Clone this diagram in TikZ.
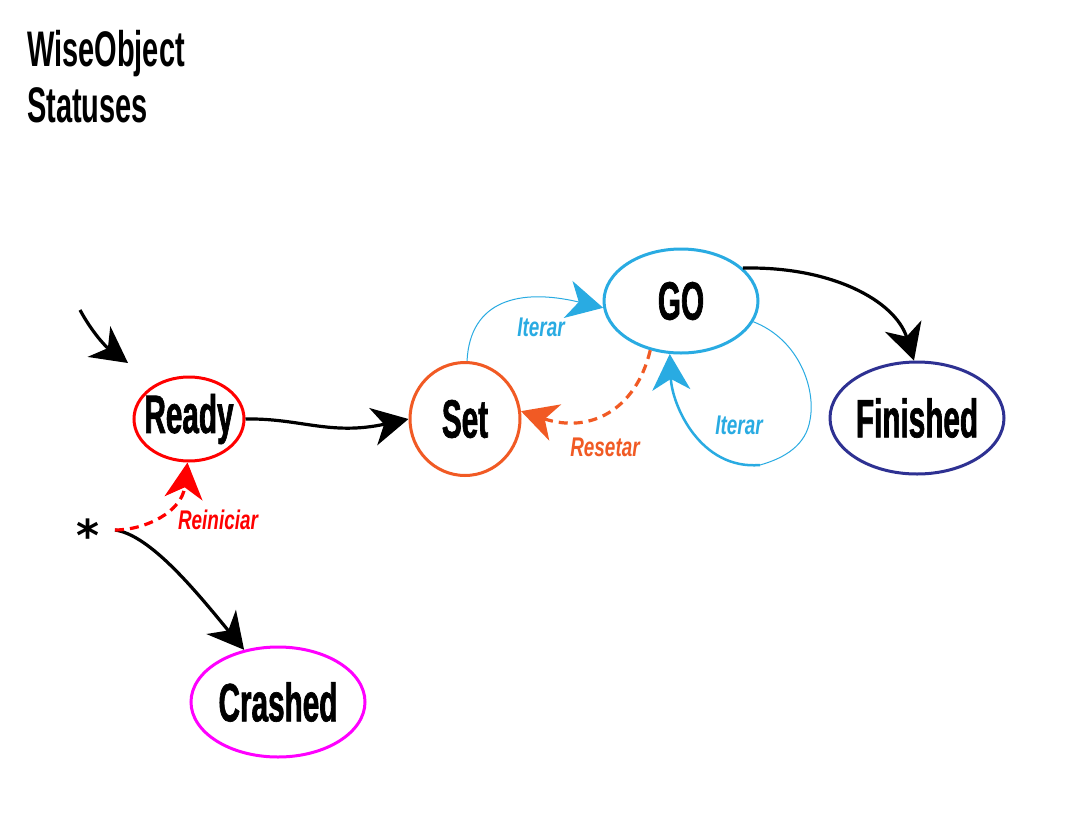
\documentclass[tikz,border=0pt]{standalone}
\usepackage{fontspec}
\setmainfont{Liberation Sans}[FakeStretch=0.58]
\newfontfamily\statefont{Liberation Sans}[FakeStretch=0.55, BoldFeatures={FakeBold=1.2}]
\newfontfamily\labelfont{Liberation Sans}[FakeStretch=0.7]
\newfontfamily\starfont{DejaVu Sans}
\usetikzlibrary{arrows.meta,shapes.geometric}
\definecolor{cred}{HTML}{FF0000}
\definecolor{corange}{HTML}{F15A24}
\definecolor{cblue}{HTML}{29ABE2}
\definecolor{cnavy}{HTML}{2E3192}
\definecolor{cmag}{HTML}{FF00FF}
\tikzset{
  state/.style={ellipse, draw, line width=3pt, inner sep=0pt},
  statetext/.style={inner sep=0pt, font=\statefont\fontsize{54}{60}\selectfont\bfseries},
  tip/.style={-{Stealth[length=36pt,width=38pt,inset=11pt]}},
  conn/.style={tip, line width=3.2pt},
  dashconn/.style={tip, line width=3.2pt, dash pattern=on 9pt off 6pt},
  lbl/.style={font=\labelfont\fontsize{27}{30}\selectfont\bfseries\itshape, inner sep=0pt},
  title/.style={font=\fontsize{50}{56}\selectfont\bfseries, inner sep=0pt, anchor=base west}
}
\begin{document}
\begin{tikzpicture}[x=1pt,y=-1pt]
\useasboundingbox (0,0) rectangle (1072,820);
\fill[white] (0,0) rectangle (1072,820);
\node[title] (t1) at (27,66) {WiseObject};
\node[title] (t2) at (27,122) {Statuses};

\node[state, draw=cred, minimum width=110pt, minimum height=84pt] (ready) at (189,419) {};
\node[statetext] (readyt) at (ready) {Ready};
\node[state, draw=corange, minimum width=110pt, minimum height=113pt] (set) at (465,419) {};
\node[statetext] (sett) at (set) {Set};
\node[state, draw=cblue, minimum width=154pt, minimum height=104pt] (go) at (681,301) {};
\node[statetext] (got) at (go) {GO};
\node[state, draw=cnavy, minimum width=174pt, minimum height=112pt] (fin) at (917,418) {};
\node[statetext] (fint) at (fin) {Finished};
\node[state, draw=cmag, minimum width=174pt, minimum height=110pt] (crash) at (278,702) {};
\node[statetext] (crasht) at (crash) {Crashed};

\node[font=\starfont\bfseries\fontsize{44}{44}\selectfont, inner sep=0pt] (star) at (88,535) {*};
\coordinate (starout) at (115,530);
\coordinate (start) at (80,310);

% initial
\draw[conn] (start) .. controls (92,332) and (105,346) .. (128,363);
% Ready -> Set
\draw[conn] (ready.east) .. controls (300,418) and (330,436) .. (set.west);
% GO -> Finished
\draw[conn] (go.28) .. controls (830,266) and (895,300) .. (fin.93);
% * -> Crashed
\draw[conn] (starout) .. controls (150,535) and (195,590) .. (crash.123);
% * -> Ready (Reiniciar)
\draw[dashconn, draw=cred] (starout) .. controls (145,530) and (182,512) .. (ready.268);
\node[lbl, text=cred] (lr) at (218,520) {Reiniciar};
% Set -> GO (Iterar)
\draw[tip, draw=cblue, line width=1pt] (set.88) .. controls (470,300) and (520,288) .. (go.185);
\node[lbl, text=cblue] (li1) at (541,327) {Iterar};
% GO -> Set (Resetar)
\draw[dashconn, draw=corange] (go.238) .. controls (636,410) and (590,434) .. (set.8);
\node[lbl, text=corange] (lrs) at (605,447) {Resetar};
% GO self loop
\coordinate (loopmid) at (760,465);
\draw[draw=cblue, line width=1pt] (go.-16) .. controls (800,340) and (816,390) .. (810,420) .. controls (806,445) and (785,458) .. (loopmid);
\draw[tip, draw=cblue, line width=2.5pt] (loopmid) .. controls (700,470) and (672,405) .. (go.258);
\node[lbl, text=cblue] (li2) at (739,425) {Iterar};
\end{tikzpicture}
\end{document}
